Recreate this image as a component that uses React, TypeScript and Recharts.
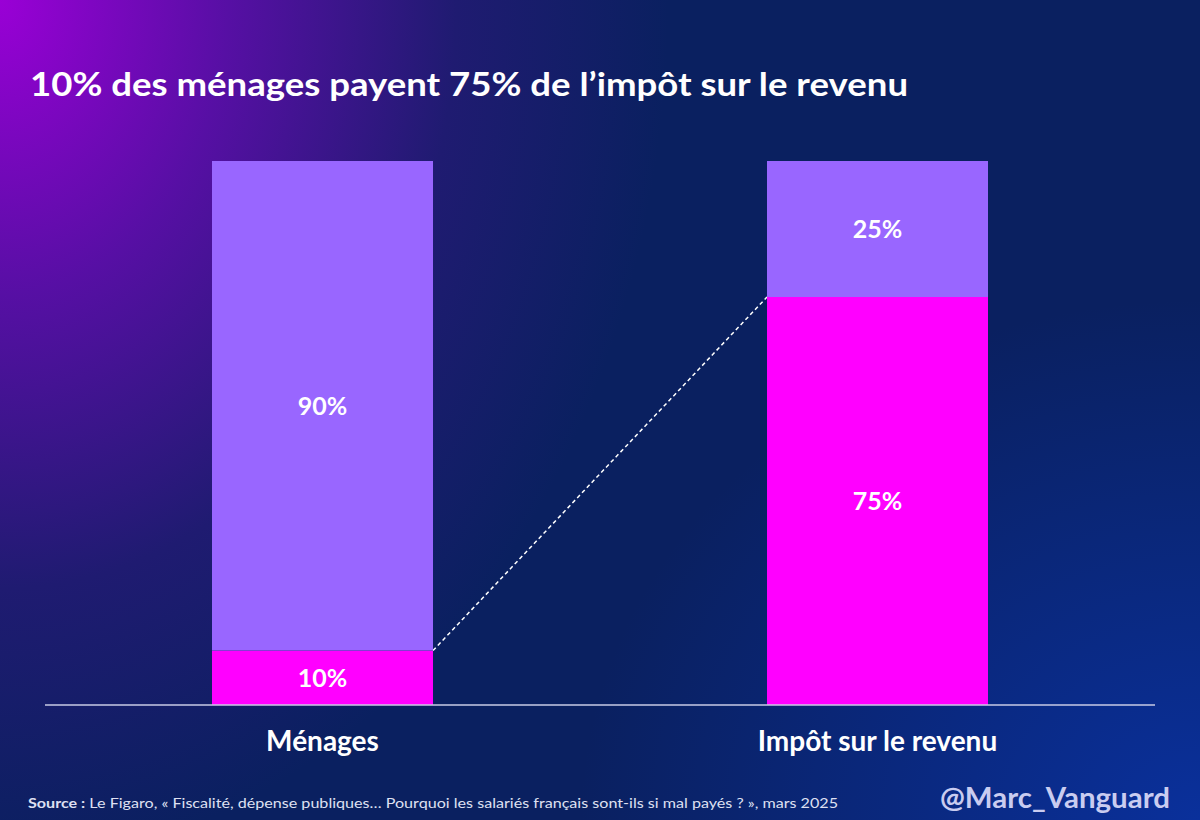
import { BarChart, Bar, XAxis, YAxis, LabelList } from 'recharts';

const categories = ['Ménages', 'Impôt sur le revenu'];
const topShare = [10, 75]; // part des 10% les plus aisés
const restShare = [90, 25];

const TITLE = '10% des ménages payent 75% de l\u2019impôt sur le revenu';
const SOURCE_NOTE =
  'Le Figaro, « Fiscalité, dépense publiques… Pourquoi les salariés français sont-ils si mal payés ? », mars 2025';
const HANDLE = '@Marc_Vanguard';

const PINK = '#ff00ff';
const PURPLE = '#9966ff';
const FONT = 'Lato, "Open Sans", sans-serif';

const data = categories.map((name, i) => ({
  name,
  top: topShare[i],
  rest: restShare[i],
}));

type Box = { x: number; y: number; width: number; height: number };

export default function App() {
  // geometry of the pink segments, filled while the bars render
  const seen: Box[] = [];

  const pinkShape = (props: any) => {
    const { x, y, width, height, index } = props;
    seen[index] = { x, y, width, height };
    const prev = index > 0 ? seen[index - 1] : null;
    return (
      <g>
        {prev && (
          <line
            x1={prev.x + prev.width}
            y1={prev.y}
            x2={x}
            y2={y}
            stroke="#ffffff"
            strokeWidth={1.5}
            strokeDasharray="4 3"
          />
        )}
        <rect x={x} y={y} width={width} height={height} fill={PINK} />
      </g>
    );
  };

  const pctLabel = (v: any) => `${v}%`;

  return (
    <div
      style={{
        position: 'fixed',
        left: 0,
        top: 0,
        width: 1200,
        height: 820,
        overflow: 'hidden',
        fontFamily: FONT,
        background:
          'radial-gradient(ellipse 760px 980px at 0% 0%, rgba(154,0,214,1) 0%, rgba(100,12,176,0.85) 30%, rgba(52,22,130,0.5) 60%, rgba(12,32,96,0) 88%),' +
          'radial-gradient(ellipse 620px 520px at 100% 100%, rgba(10,48,155,1) 0%, rgba(10,40,120,0) 100%), #0a2060',
      }}
    >
      <div style={{ position: 'absolute', left: 0, top: 0 }}>
        <BarChart
          width={1200}
          height={820}
          data={data}
          margin={{ top: 161, right: 45, bottom: 55, left: 45 }}
          barCategoryGap={0}
        >
          <YAxis hide domain={[0, 100]} />
          <XAxis
            dataKey="name"
            height={60}
            axisLine={{ stroke: '#c9cbe6', strokeWidth: 1.5 }}
            tickLine={false}
            tick={{ fill: '#ffffff', fontSize: 28, fontWeight: 700, fontFamily: FONT }}
            dy={18}
          />
          <Bar
            dataKey="top"
            stackId="s"
            barSize={221}
            shape={pinkShape}
            isAnimationActive={false}
          >
            <LabelList
              dataKey="top"
              position="center"
              formatter={pctLabel}
              fill="#ffffff"
              style={{ fontSize: 25, fontWeight: 700, fontFamily: FONT }}
            />
          </Bar>
          <Bar
            dataKey="rest"
            stackId="s"
            barSize={221}
            fill={PURPLE}
            isAnimationActive={false}
          >
            <LabelList
              dataKey="rest"
              position="center"
              formatter={pctLabel}
              fill="#ffffff"
              style={{ fontSize: 25, fontWeight: 700, fontFamily: FONT }}
            />
          </Bar>
        </BarChart>
      </div>

      {/* title, source line and handle, stretched to the slide's text widths */}
      <svg
        width={1200}
        height={820}
        style={{ position: 'absolute', left: 0, top: 0, pointerEvents: 'none' }}
      >
        <text
          x={30}
          y={96}
          fill="#ffffff"
          fontSize={33}
          fontWeight={700}
          fontFamily={FONT}
          textLength={878}
          lengthAdjust="spacingAndGlyphs"
        >
          {TITLE}
        </text>
        <text
          x={28}
          y={808}
          fill="#dfe0f2"
          fontSize={14}
          fontFamily={FONT}
          textLength={810}
          lengthAdjust="spacingAndGlyphs"
        >
          <tspan fontWeight={700}>Source :</tspan> {SOURCE_NOTE}
        </text>
        <text
          x={940}
          y={808}
          fill="#c9ccf0"
          fontSize={29}
          fontWeight={700}
          fontFamily={FONT}
          textLength={230}
          lengthAdjust="spacingAndGlyphs"
        >
          {HANDLE}
        </text>
      </svg>
    </div>
  );
}
